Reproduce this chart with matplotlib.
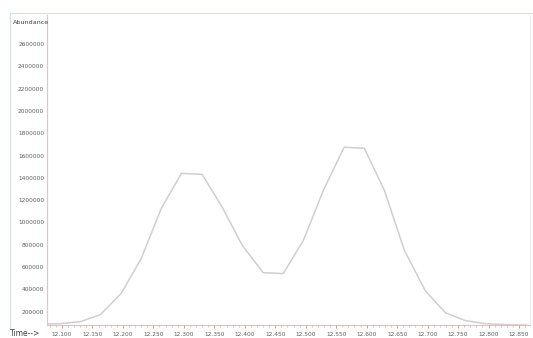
import matplotlib
matplotlib.use("Agg")
import matplotlib.pyplot as plt
from matplotlib.lines import Line2D
from matplotlib.ticker import MultipleLocator, FixedLocator

# Data (retention time in min, abundance)
times = [12.064, 12.097, 12.130, 12.163, 12.197, 12.230, 12.263, 12.296, 12.330,
         12.363, 12.396, 12.430, 12.463, 12.496, 12.529, 12.563, 12.596, 12.629,
         12.662, 12.696, 12.729, 12.762, 12.795, 12.829, 12.862]
abundance = [88000, 92000, 110000, 173000, 362000, 676000, 1126000, 1440000, 1431000,
             1135000, 793000, 550000, 541000, 838000, 1288000, 1674000, 1665000, 1288000,
             748000, 389000, 191000, 119000, 92000, 83000, 80000]
x_ticks = [12.100, 12.150, 12.200, 12.250, 12.300, 12.350, 12.400, 12.450,
           12.500, 12.550, 12.600, 12.650, 12.700, 12.750, 12.800, 12.850]
y_ticks = [200000, 400000, 600000, 800000, 1000000, 1200000, 1400000, 1600000,
           1800000, 2000000, 2200000, 2400000, 2600000]

W, H = 533, 338
fig = plt.figure(figsize=(W / 100, H / 100), dpi=100)
fig.patch.set_facecolor("white")

ax = fig.add_axes([47 / W, (H - 325) / H, (530 - 47) / W, (325 - 15) / H])
ax.plot(times, abundance, color="#cfcfcf", lw=1.1, solid_joinstyle="miter")

ax.set_xlim(12.0754, 12.868)
ax.set_ylim(80000, 2860000)

ax.xaxis.set_major_locator(FixedLocator(x_ticks))
ax.xaxis.set_minor_locator(MultipleLocator(0.01))
ax.set_xticklabels([f"{t:.3f}" for t in x_ticks])
ax.yaxis.set_major_locator(FixedLocator(y_ticks))
ax.set_yticklabels([str(v) for v in y_ticks])

ax.tick_params(axis="x", which="major", length=2.5, width=0.6, color="#e08080",
               labelsize=4.2, labelcolor="#606060", pad=2.5)
ax.tick_params(axis="x", which="minor", length=1.5, width=0.5, color="#e8a0a0")
ax.tick_params(axis="y", which="major", length=0, labelsize=4.2,
               labelcolor="#606060", pad=2)

for s in ["top"]:
    ax.spines[s].set_visible(False)
ax.spines["right"].set_color("#f4e0e0")
ax.spines["right"].set_linewidth(0.6)
ax.spines["left"].set_color("#d8c8c8")
ax.spines["left"].set_linewidth(0.8)
ax.spines["bottom"].set_color("#e0b0b0")
ax.spines["bottom"].set_linewidth(0.6)

# Outer green frame lines
fig.add_artist(Line2D([10 / W, 1.0], [1 - 13 / H, 1 - 13 / H], color="#cfe8cf", lw=0.8))
fig.add_artist(Line2D([10 / W, 10 / W], [1 - 13 / H, 1 - 328 / H], color="#cfe8cf", lw=0.8))

fig.text(13 / W, 1 - 22 / H, "Abundance", fontsize=4.6, color="#404040", va="center", ha="left")
fig.text(10 / W, 1 - 333 / H, "Time-->", fontsize=5.5, color="#404040", va="center", ha="left")

fig.savefig("out.png", dpi=100, facecolor="white")
